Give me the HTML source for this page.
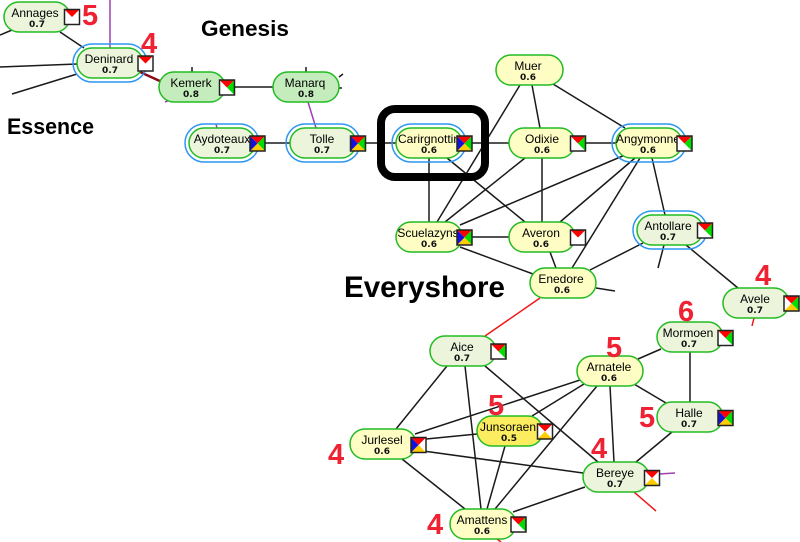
<!DOCTYPE html>
<html><head><meta charset="utf-8"><style>
html,body{margin:0;padding:0;background:#fff;width:800px;height:542px;overflow:hidden}
svg{display:block}
.l{font:12px "Liberation Sans",sans-serif;text-anchor:middle;fill:#000}
.v{font:bold 9px "DejaVu Sans",sans-serif;text-anchor:middle;fill:#111}
.t{font-family:"Liberation Sans",sans-serif;font-weight:bold;fill:#000}
.n{font:bold 29px "Liberation Sans",sans-serif;fill:#ee2233}
.y{fill:#fdfdc4;stroke:#22bb22;stroke-width:1.5}
.g{fill:#ecf5dc;stroke:#22bb22;stroke-width:1.5}
.d{fill:#c4ecbc;stroke:#22bb22;stroke-width:1.5}
.o{fill:#fbec60;stroke:#22bb22;stroke-width:1.5}
.h{fill:none;stroke:#2f96f0;stroke-width:1.5}
</style></head><body>
<svg width="800" height="542" viewBox="0 0 800 542" xmlns="http://www.w3.org/2000/svg">
<defs>
<g id="i1"><rect width="15" height="15" fill="#fff"/><path d="M0 0H15L7.5 7.5Z" fill="#f00"/><rect width="15" height="15" fill="none" stroke="#222" stroke-width="1.5"/></g>
<g id="i2"><rect width="15" height="15" fill="#fff"/><path d="M0 0H15L7.5 7.5Z" fill="#f00"/><path d="M15 0V15L7.5 7.5Z" fill="#0d0"/><rect width="15" height="15" fill="none" stroke="#222" stroke-width="1.5"/></g>
<g id="i3"><rect width="15" height="15" fill="#fff"/><path d="M0 0H15L7.5 7.5Z" fill="#f00"/><path d="M15 0V15L7.5 7.5Z" fill="#0d0"/><path d="M0 15H15L7.5 7.5Z" fill="#fc0"/><rect width="15" height="15" fill="none" stroke="#222" stroke-width="1.5"/></g>
<g id="i4"><rect width="15" height="15" fill="#fff"/><path d="M0 0H15L7.5 7.5Z" fill="#f00"/><path d="M15 0V15L7.5 7.5Z" fill="#0d0"/><path d="M0 15H15L7.5 7.5Z" fill="#fc0"/><path d="M0 0V15L7.5 7.5Z" fill="#11d"/><rect width="15" height="15" fill="none" stroke="#222" stroke-width="1.5"/></g>
<g id="i5"><rect width="15" height="15" fill="#fff"/><path d="M0 0H15L7.5 7.5Z" fill="#f00"/><path d="M0 15H15L7.5 7.5Z" fill="#fc0"/><rect width="15" height="15" fill="none" stroke="#222" stroke-width="1.5"/></g>
<g id="i6"><rect width="15" height="15" fill="#fff"/><path d="M0 0H15L7.5 7.5Z" fill="#f00"/><path d="M0 15H15L7.5 7.5Z" fill="#fc0"/><path d="M0 0V15L7.5 7.5Z" fill="#11d"/><rect width="15" height="15" fill="none" stroke="#222" stroke-width="1.5"/></g>
</defs>

<path fill="none" stroke="#1a1a1a" stroke-width="1.5" d="M60 32L84 48M0 35L12 30M0 67L77 64M12 94L77 74M192 67V72M306 67V72M339 77L343 74M339 88H342M225 87H273M255 143H290M356 143H616M520 85L437 222M532 85L540 128M553 84L625 128M429 158V222M447 158L525 222M525 158L445 222M542 158V222M625 155L460 225M635 158L560 222M640 158L572 268M652 158L665 215M462 237H509M460 247L533 274M550 252L556 268M643 243L590 270M664 245L658 268M686 245L738 288M596 288L615 291M661 349L638 359M690 352V402M634 384L666 403M672 432L636 462M610 386L614 462M580 380L415 434M584 384L532 416M597 386L495 509M447 366L396 429M465 366L481 509M485 366L598 462M416 440L477 434M416 450L583 473M402 459L465 509M505 446L487 509M585 487L513 512"/>
<path fill="none" stroke="#a040b0" stroke-width="1.5" d="M110 0V48M165 102L170 100M308 102L316 128M216 124L217 128M659 474L675 473"/>
<path fill="none" stroke="#f01818" stroke-width="1.5" d="M540 298L485 336M754 318L752 326M634 492L656 511M497 539L501 542"/>
<path fill="none" stroke="#8b0a1a" stroke-width="2.5" d="M140 72L162 82"/>

<rect class="h" x="73" y="44" width="74" height="38" rx="19"/>
<rect class="h" x="185" y="124" width="74" height="38" rx="19"/>
<rect class="h" x="286" y="124" width="74" height="38" rx="19"/>
<rect class="h" x="392" y="124" width="74" height="38" rx="19"/>
<rect class="h" x="612" y="124" width="74" height="38" rx="19"/>
<rect class="h" x="633" y="211" width="74" height="38" rx="19"/>

<rect class="g" x="4" y="2" width="66" height="30" rx="15"/><text class="l" x="35" y="17">Annages</text><text class="v" x="37" y="27">0.7</text><use href="#i1" x="64.5" y="9.5"/>
<rect class="g" x="77" y="48" width="66" height="30" rx="15"/><text class="l" x="109" y="63">Deninard</text><text class="v" x="110" y="73">0.7</text><use href="#i1" x="138" y="56"/>
<rect class="d" x="159" y="72" width="66" height="30" rx="15"/><text class="l" x="191" y="87">Kemerk</text><text class="v" x="191" y="97">0.8</text><use href="#i2" x="219.5" y="80"/>
<rect class="d" x="273" y="72" width="66" height="30" rx="15"/><text class="l" x="305" y="87">Manarq</text><text class="v" x="306" y="97">0.8</text>
<rect class="g" x="189" y="128" width="66" height="30" rx="15"/><text class="l" x="222" y="143">Aydoteaux</text><text class="v" x="222" y="153">0.7</text><use href="#i4" x="250" y="136"/>
<rect class="g" x="290" y="128" width="66" height="30" rx="15"/><text class="l" x="322" y="143">Tolle</text><text class="v" x="322" y="153">0.7</text><use href="#i4" x="350.5" y="136"/>
<rect class="y" x="396" y="128" width="66" height="30" rx="15"/><text class="l" x="429" y="143">Carirgnottin</text><text class="v" x="429" y="153">0.6</text><use href="#i4" x="457" y="136"/>
<rect class="y" x="509" y="128" width="66" height="30" rx="15"/><text class="l" x="542" y="143">Odixie</text><text class="v" x="542" y="153">0.6</text><use href="#i2" x="570.5" y="136"/>
<rect class="y" x="616" y="128" width="66" height="30" rx="15"/><text class="l" x="648" y="143">Angymonne</text><text class="v" x="648" y="153">0.6</text><use href="#i2" x="677" y="136"/>
<rect class="y" x="496" y="55" width="67" height="30" rx="15"/><text class="l" x="528" y="70">Muer</text><text class="v" x="528" y="80">0.6</text>
<rect class="y" x="396" y="222" width="66" height="30" rx="15"/><text class="l" x="428" y="237">Scuelazyns</text><text class="v" x="429" y="247">0.6</text><use href="#i4" x="457" y="230"/>
<rect class="y" x="509" y="222" width="66" height="30" rx="15"/><text class="l" x="541" y="237">Averon</text><text class="v" x="541" y="247">0.6</text><use href="#i1" x="570.5" y="230"/>
<rect class="g" x="637" y="215" width="66" height="30" rx="15"/><text class="l" x="668" y="230">Antollare</text><text class="v" x="668" y="240">0.7</text><use href="#i2" x="697.5" y="223"/>
<rect class="y" x="530" y="268" width="66" height="30" rx="15"/><text class="l" x="561" y="283">Enedore</text><text class="v" x="562" y="293">0.6</text>
<rect class="g" x="723" y="288" width="66" height="30" rx="15"/><text class="l" x="755" y="303">Avele</text><text class="v" x="755" y="313">0.7</text><use href="#i3" x="784" y="296"/>
<rect class="g" x="657" y="322" width="66" height="30" rx="15"/><text class="l" x="688" y="337">Mormoen</text><text class="v" x="689" y="347">0.7</text><use href="#i2" x="718" y="330.5"/>
<rect class="y" x="577" y="356" width="66" height="30" rx="15"/><text class="l" x="609" y="371">Arnatele</text><text class="v" x="609" y="381">0.6</text>
<rect class="g" x="430" y="336" width="66" height="30" rx="15"/><text class="l" x="462" y="351">Aice</text><text class="v" x="462" y="361">0.7</text><use href="#i2" x="491" y="344"/>
<rect class="o" x="477" y="416" width="66" height="30" rx="15"/><text class="l" x="508" y="431">Junsoraen</text><text class="v" x="509" y="441">0.5</text><use href="#i5" x="537.5" y="424"/>
<rect class="g" x="657" y="402" width="66" height="30" rx="15"/><text class="l" x="689" y="417">Halle</text><text class="v" x="689" y="427">0.7</text><use href="#i4" x="718" y="410.5"/>
<rect class="y" x="350" y="429" width="66" height="30" rx="15"/><text class="l" x="382" y="444">Jurlesel</text><text class="v" x="382" y="454">0.6</text><use href="#i6" x="411" y="437.5"/>
<rect class="g" x="583" y="462" width="66" height="30" rx="15"/><text class="l" x="615" y="477">Bereye</text><text class="v" x="615" y="487">0.7</text><use href="#i5" x="644.5" y="470.5"/>
<rect class="y" x="450" y="509" width="66" height="30" rx="15"/><text class="l" x="482" y="524">Amattens</text><text class="v" x="482" y="534">0.6</text><use href="#i2" x="511" y="517"/>

<rect x="381" y="109" width="104" height="68" rx="14" fill="none" stroke="#000" stroke-width="8"/>

<text class="t" x="201" y="36" font-size="22.5" textLength="88" lengthAdjust="spacingAndGlyphs">Genesis</text>
<text class="t" x="7" y="134" font-size="22.5" textLength="87" lengthAdjust="spacingAndGlyphs">Essence</text>
<text class="t" x="344" y="297" font-size="30" textLength="161" lengthAdjust="spacingAndGlyphs">Everyshore</text>

<text class="n" x="82" y="25">5</text>
<text class="n" x="141" y="53">4</text>
<text class="n" x="755" y="285">4</text>
<text class="n" x="678" y="321">6</text>
<text class="n" x="606" y="357">5</text>
<text class="n" x="488" y="415">5</text>
<text class="n" x="639" y="427">5</text>
<text class="n" x="328" y="464">4</text>
<text class="n" x="591" y="458">4</text>
<text class="n" x="427" y="534">4</text>
</svg>
</body></html>
